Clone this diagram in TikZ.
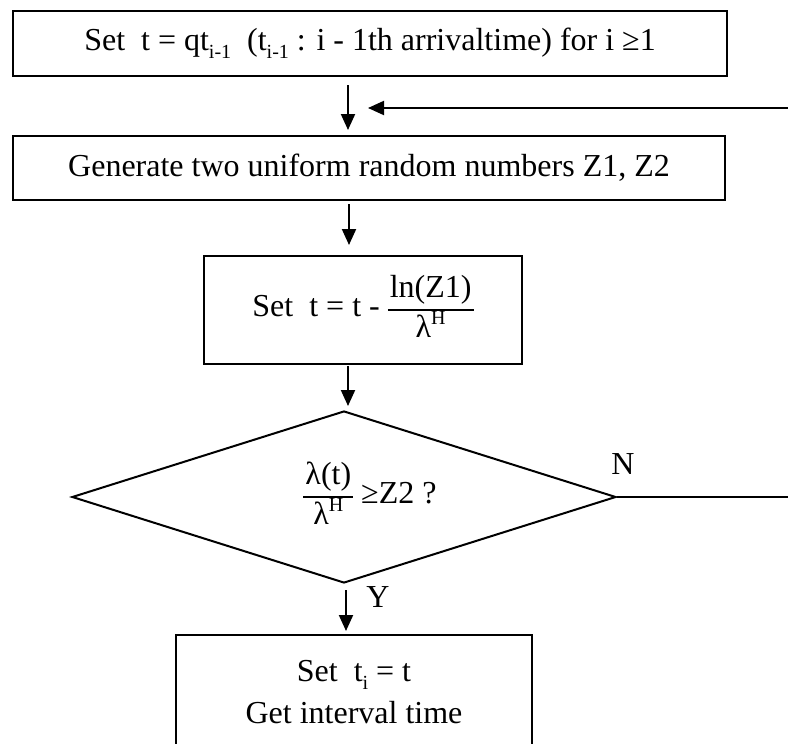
\documentclass[tikz,border=0pt]{standalone}
\usepackage{fontspec}
\setmainfont{Liberation Serif}
\usetikzlibrary{arrows.meta,shapes.geometric}
\newcommand\mysub[1]{\raisebox{-8pt}{\fontsize{20}{20}\selectfont #1}}
\newcommand\mysup[1]{\raisebox{13pt}{\fontsize{20}{20}\selectfont #1}}
\newcommand\myfrac[2]{\begin{tabular}{@{\hspace{2pt}}c@{\hspace{2pt}}}#1\\\hline #2\end{tabular}}
\setlength\arrayrulewidth{1.4pt}
\begin{document}
\begin{tikzpicture}[x=1pt,y=-1pt,
  font=\fontsize{32}{38}\selectfont,
  box/.style={draw, line width=2pt, inner sep=0pt, anchor=north west, align=center},
  arr/.style={line width=2pt, -{Triangle[length=16pt,width=14pt]}},
  plain/.style={line width=2pt}]
\useasboundingbox (0,0) rectangle (788,744);
\clip (0,0) rectangle (788,744);

\node[box, minimum width=714pt, minimum height=65pt] (b1) at (12,10)
  {Set\ \ t = qt\mysub{i-1}\ \ (t\mysub{i-1} : i - 1th arrivaltime) for i ≥1};
\node[box, minimum width=712pt, minimum height=64pt] (b2) at (12,135)
  {Generate two uniform random numbers Z1, Z2};
\node[box, minimum width=318pt, minimum height=108pt] (b3) at (203,255)
  {Set\ \ t = t - \myfrac{ln(Z1)}{λ\mysup{H}}};
\node[draw, diamond, line width=2pt, inner sep=0pt, aspect=3.16,
  minimum width=544pt, minimum height=172pt] (dia) at (344,497) {};
\node (dt) at (370,497) {\myfrac{λ(t)}{λ\mysup{H}}\ ≥Z2 ?};
\node[box, minimum width=356pt, minimum height=114pt] (b4) at (175,634)
  {Set\ \ t\mysub{i}\ = t\\[4pt]Get interval time};

\node (nl) at (623,464) {N};
\node (yl) at (378,597) {Y};

\coordinate (c1) at (348,0);
\coordinate (c2) at (349,0);
\coordinate (c4) at (346,0);
\coordinate (fbs) at (790,108);
\coordinate (fbe) at (368,108);
\coordinate (ne) at (790,0);

\draw[arr, shorten <=8pt, shorten >=5pt] (b1.south -| c1) -- (b2.north -| c1);
\draw[arr] (fbs) -- (fbe);
\draw[arr, shorten <=3pt, shorten >=10pt] (b2.south -| c2) -- (b3.north -| c2);
\draw[arr, shorten <=1pt, shorten >=4pt] (b3.south -| c1) -- (dia.north -| c1);
\draw[arr, shorten <=6pt, shorten >=3pt] (dia.south -| c4) -- (b4.north -| c4);
\draw[plain] (dia.east) -- (dia.east -| ne);
\end{tikzpicture}
\end{document}
